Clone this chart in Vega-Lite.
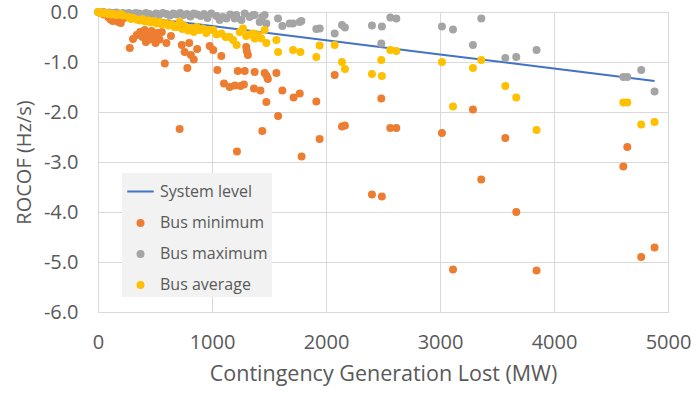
{
  "$schema": "https://vega.github.io/schema/vega-lite/v6.json",
  "width": 570,
  "height": 300,
  "autosize": "none",
  "padding": {"left": 98, "top": 12, "right": 30, "bottom": 84},
  "background": "white",
  "config": {
    "view": {"stroke": "#d9d9d9"},
    "font": "Open Sans",
    "axis": {
      "grid": true,
      "gridColor": "#d9d9d9",
      "gridWidth": 1,
      "domain": false,
      "ticks": false,
      "tickSize": 0,
      "labelColor": "#595959",
      "labelFontSize": 20,
      "titleColor": "#595959",
      "titleFontSize": 20,
      "titleFontWeight": "normal",
      "labelFlush": false
    }
  },
  "datasets": {
    "sys": [
      {"x": 0, "y": 0},
      {"x": 1000, "y": -0.28},
      {"x": 2000, "y": -0.565},
      {"x": 3000, "y": -0.85},
      {"x": 4000, "y": -1.13},
      {"x": 4882, "y": -1.38}
    ],
    "bus": [
      {"s": "Bus minimum", "x": 20, "y": -0.02},
      {"s": "Bus minimum", "x": 50, "y": -0.05},
      {"s": "Bus minimum", "x": 70, "y": -0.03},
      {"s": "Bus minimum", "x": 90, "y": -0.1},
      {"s": "Bus minimum", "x": 110, "y": -0.15},
      {"s": "Bus minimum", "x": 130, "y": -0.18},
      {"s": "Bus minimum", "x": 150, "y": -0.13},
      {"s": "Bus minimum", "x": 180, "y": -0.2},
      {"s": "Bus minimum", "x": 200, "y": -0.22},
      {"s": "Bus minimum", "x": 230, "y": -0.12},
      {"s": "Bus minimum", "x": 279, "y": -0.72},
      {"s": "Bus minimum", "x": 307, "y": -0.54},
      {"s": "Bus minimum", "x": 340, "y": -0.46},
      {"s": "Bus minimum", "x": 370, "y": -0.4},
      {"s": "Bus minimum", "x": 390, "y": -0.5},
      {"s": "Bus minimum", "x": 410, "y": -0.36},
      {"s": "Bus minimum", "x": 420, "y": -0.6},
      {"s": "Bus minimum", "x": 440, "y": -0.44},
      {"s": "Bus minimum", "x": 455, "y": -0.55},
      {"s": "Bus minimum", "x": 470, "y": -0.38},
      {"s": "Bus minimum", "x": 490, "y": -0.48},
      {"s": "Bus minimum", "x": 505, "y": -0.62},
      {"s": "Bus minimum", "x": 520, "y": -0.42},
      {"s": "Bus minimum", "x": 540, "y": -0.55},
      {"s": "Bus minimum", "x": 560, "y": -0.4},
      {"s": "Bus minimum", "x": 586, "y": -1.03},
      {"s": "Bus minimum", "x": 600, "y": -0.62},
      {"s": "Bus minimum", "x": 640, "y": -0.48},
      {"s": "Bus minimum", "x": 716, "y": -2.34},
      {"s": "Bus minimum", "x": 735, "y": -0.66},
      {"s": "Bus minimum", "x": 760, "y": -0.8},
      {"s": "Bus minimum", "x": 784, "y": -1.12},
      {"s": "Bus minimum", "x": 800, "y": -0.62},
      {"s": "Bus minimum", "x": 815, "y": -0.86},
      {"s": "Bus minimum", "x": 840, "y": -0.95},
      {"s": "Bus minimum", "x": 870, "y": -0.74},
      {"s": "Bus minimum", "x": 980, "y": -0.68},
      {"s": "Bus minimum", "x": 1011, "y": -0.76},
      {"s": "Bus minimum", "x": 1047, "y": -1.16},
      {"s": "Bus minimum", "x": 1082, "y": -0.88},
      {"s": "Bus minimum", "x": 1105, "y": -1.43},
      {"s": "Bus minimum", "x": 1155, "y": -1.5},
      {"s": "Bus minimum", "x": 1200, "y": -1.47},
      {"s": "Bus minimum", "x": 1219, "y": -2.79},
      {"s": "Bus minimum", "x": 1226, "y": -1.18},
      {"s": "Bus minimum", "x": 1250, "y": -1.48},
      {"s": "Bus minimum", "x": 1280, "y": -1.45},
      {"s": "Bus minimum", "x": 1287, "y": -1.18},
      {"s": "Bus minimum", "x": 1300, "y": -0.7},
      {"s": "Bus minimum", "x": 1305, "y": -0.78},
      {"s": "Bus minimum", "x": 1315, "y": -0.86},
      {"s": "Bus minimum", "x": 1368, "y": -1.53},
      {"s": "Bus minimum", "x": 1374, "y": -1.2},
      {"s": "Bus minimum", "x": 1425, "y": -1.57},
      {"s": "Bus minimum", "x": 1441, "y": -2.38},
      {"s": "Bus minimum", "x": 1462, "y": -1.22},
      {"s": "Bus minimum", "x": 1477, "y": -1.8},
      {"s": "Bus minimum", "x": 1480, "y": -1.28},
      {"s": "Bus minimum", "x": 1490, "y": -1.34},
      {"s": "Bus minimum", "x": 1565, "y": -1.22},
      {"s": "Bus minimum", "x": 1580, "y": -2.08},
      {"s": "Bus minimum", "x": 1617, "y": -1.57},
      {"s": "Bus minimum", "x": 1716, "y": -1.71},
      {"s": "Bus minimum", "x": 1770, "y": -1.63},
      {"s": "Bus minimum", "x": 1786, "y": -2.89},
      {"s": "Bus minimum", "x": 1915, "y": -1.79},
      {"s": "Bus minimum", "x": 1944, "y": -2.54},
      {"s": "Bus minimum", "x": 2076, "y": -1.26},
      {"s": "Bus minimum", "x": 2140, "y": -2.29},
      {"s": "Bus minimum", "x": 2166, "y": -2.27},
      {"s": "Bus minimum", "x": 2403, "y": -3.65},
      {"s": "Bus minimum", "x": 2485, "y": -1.73},
      {"s": "Bus minimum", "x": 2490, "y": -3.69},
      {"s": "Bus minimum", "x": 2564, "y": -2.32},
      {"s": "Bus minimum", "x": 2617, "y": -2.32},
      {"s": "Bus minimum", "x": 3017, "y": -2.42},
      {"s": "Bus minimum", "x": 3114, "y": -5.15},
      {"s": "Bus minimum", "x": 3289, "y": -1.95},
      {"s": "Bus minimum", "x": 3362, "y": -3.35},
      {"s": "Bus minimum", "x": 3573, "y": -2.52},
      {"s": "Bus minimum", "x": 3669, "y": -4.0},
      {"s": "Bus minimum", "x": 3847, "y": -5.17},
      {"s": "Bus minimum", "x": 4608, "y": -3.09},
      {"s": "Bus minimum", "x": 4643, "y": -2.7},
      {"s": "Bus minimum", "x": 4765, "y": -4.9},
      {"s": "Bus minimum", "x": 4882, "y": -4.71},

      {"s": "Bus maximum", "x": 0, "y": 0},
      {"s": "Bus maximum", "x": 25, "y": -0.01},
      {"s": "Bus maximum", "x": 50, "y": 0},
      {"s": "Bus maximum", "x": 75, "y": -0.02},
      {"s": "Bus maximum", "x": 100, "y": -0.01},
      {"s": "Bus maximum", "x": 130, "y": -0.02},
      {"s": "Bus maximum", "x": 160, "y": -0.01},
      {"s": "Bus maximum", "x": 190, "y": -0.03},
      {"s": "Bus maximum", "x": 220, "y": -0.02},
      {"s": "Bus maximum", "x": 270, "y": -0.02},
      {"s": "Bus maximum", "x": 300, "y": -0.04},
      {"s": "Bus maximum", "x": 330, "y": -0.02},
      {"s": "Bus maximum", "x": 360, "y": -0.03},
      {"s": "Bus maximum", "x": 390, "y": -0.05},
      {"s": "Bus maximum", "x": 420, "y": -0.02},
      {"s": "Bus maximum", "x": 450, "y": -0.04},
      {"s": "Bus maximum", "x": 480, "y": -0.06},
      {"s": "Bus maximum", "x": 510, "y": -0.03},
      {"s": "Bus maximum", "x": 540, "y": -0.05},
      {"s": "Bus maximum", "x": 570, "y": -0.02},
      {"s": "Bus maximum", "x": 600, "y": -0.04},
      {"s": "Bus maximum", "x": 630, "y": -0.07},
      {"s": "Bus maximum", "x": 660, "y": -0.03},
      {"s": "Bus maximum", "x": 690, "y": -0.05},
      {"s": "Bus maximum", "x": 720, "y": -0.02},
      {"s": "Bus maximum", "x": 750, "y": -0.06},
      {"s": "Bus maximum", "x": 780, "y": -0.04},
      {"s": "Bus maximum", "x": 810, "y": -0.09},
      {"s": "Bus maximum", "x": 840, "y": -0.03},
      {"s": "Bus maximum", "x": 870, "y": -0.05},
      {"s": "Bus maximum", "x": 900, "y": -0.08},
      {"s": "Bus maximum", "x": 930, "y": -0.04},
      {"s": "Bus maximum", "x": 960, "y": -0.12},
      {"s": "Bus maximum", "x": 994, "y": -0.03},
      {"s": "Bus maximum", "x": 1040, "y": -0.08},
      {"s": "Bus maximum", "x": 1067, "y": -0.16},
      {"s": "Bus maximum", "x": 1096, "y": -0.1},
      {"s": "Bus maximum", "x": 1126, "y": -0.13},
      {"s": "Bus maximum", "x": 1160, "y": -0.05},
      {"s": "Bus maximum", "x": 1199, "y": -0.13},
      {"s": "Bus maximum", "x": 1213, "y": -0.06},
      {"s": "Bus maximum", "x": 1258, "y": -0.16},
      {"s": "Bus maximum", "x": 1287, "y": -0.03},
      {"s": "Bus maximum", "x": 1330, "y": -0.1},
      {"s": "Bus maximum", "x": 1360, "y": -0.06},
      {"s": "Bus maximum", "x": 1374, "y": -0.06},
      {"s": "Bus maximum", "x": 1418, "y": -0.2},
      {"s": "Bus maximum", "x": 1440, "y": -0.1},
      {"s": "Bus maximum", "x": 1462, "y": -0.06},
      {"s": "Bus maximum", "x": 1477, "y": -0.23},
      {"s": "Bus maximum", "x": 1579, "y": -0.13},
      {"s": "Bus maximum", "x": 1617, "y": -0.28},
      {"s": "Bus maximum", "x": 1681, "y": -0.23},
      {"s": "Bus maximum", "x": 1711, "y": -0.23},
      {"s": "Bus maximum", "x": 1769, "y": -0.2},
      {"s": "Bus maximum", "x": 1784, "y": -0.18},
      {"s": "Bus maximum", "x": 1915, "y": -0.34},
      {"s": "Bus maximum", "x": 1945, "y": -0.33},
      {"s": "Bus maximum", "x": 2076, "y": -0.43},
      {"s": "Bus maximum", "x": 2140, "y": -0.26},
      {"s": "Bus maximum", "x": 2166, "y": -0.31},
      {"s": "Bus maximum", "x": 2403, "y": -0.27},
      {"s": "Bus maximum", "x": 2485, "y": -0.63},
      {"s": "Bus maximum", "x": 2490, "y": -0.29},
      {"s": "Bus maximum", "x": 2564, "y": -0.11},
      {"s": "Bus maximum", "x": 2617, "y": -0.13},
      {"s": "Bus maximum", "x": 3017, "y": -0.29},
      {"s": "Bus maximum", "x": 3114, "y": -0.35},
      {"s": "Bus maximum", "x": 3289, "y": -0.66},
      {"s": "Bus maximum", "x": 3362, "y": -0.13},
      {"s": "Bus maximum", "x": 3573, "y": -0.92},
      {"s": "Bus maximum", "x": 3669, "y": -0.9},
      {"s": "Bus maximum", "x": 3847, "y": -0.76},
      {"s": "Bus maximum", "x": 4608, "y": -1.3},
      {"s": "Bus maximum", "x": 4643, "y": -1.3},
      {"s": "Bus maximum", "x": 4765, "y": -1.16},
      {"s": "Bus maximum", "x": 4882, "y": -1.59},

      {"s": "Bus average", "x": 0, "y": 0},
      {"s": "Bus average", "x": 15, "y": -0.01},
      {"s": "Bus average", "x": 30, "y": -0.02},
      {"s": "Bus average", "x": 45, "y": -0.01},
      {"s": "Bus average", "x": 60, "y": -0.03},
      {"s": "Bus average", "x": 75, "y": -0.02},
      {"s": "Bus average", "x": 90, "y": -0.04},
      {"s": "Bus average", "x": 105, "y": -0.03},
      {"s": "Bus average", "x": 120, "y": -0.05},
      {"s": "Bus average", "x": 140, "y": -0.04},
      {"s": "Bus average", "x": 160, "y": -0.06},
      {"s": "Bus average", "x": 180, "y": -0.05},
      {"s": "Bus average", "x": 200, "y": -0.04},
      {"s": "Bus average", "x": 220, "y": -0.07},
      {"s": "Bus average", "x": 270, "y": -0.1},
      {"s": "Bus average", "x": 290, "y": -0.14},
      {"s": "Bus average", "x": 310, "y": -0.12},
      {"s": "Bus average", "x": 340, "y": -0.15},
      {"s": "Bus average", "x": 365, "y": -0.17},
      {"s": "Bus average", "x": 390, "y": -0.14},
      {"s": "Bus average", "x": 415, "y": -0.19},
      {"s": "Bus average", "x": 440, "y": -0.17},
      {"s": "Bus average", "x": 465, "y": -0.21},
      {"s": "Bus average", "x": 490, "y": -0.18},
      {"s": "Bus average", "x": 515, "y": -0.23},
      {"s": "Bus average", "x": 540, "y": -0.2},
      {"s": "Bus average", "x": 565, "y": -0.25},
      {"s": "Bus average", "x": 590, "y": -0.22},
      {"s": "Bus average", "x": 620, "y": -0.27},
      {"s": "Bus average", "x": 645, "y": -0.24},
      {"s": "Bus average", "x": 670, "y": -0.3},
      {"s": "Bus average", "x": 700, "y": -0.3},
      {"s": "Bus average", "x": 716, "y": -0.2},
      {"s": "Bus average", "x": 740, "y": -0.34},
      {"s": "Bus average", "x": 760, "y": -0.28},
      {"s": "Bus average", "x": 790, "y": -0.37},
      {"s": "Bus average", "x": 810, "y": -0.32},
      {"s": "Bus average", "x": 840, "y": -0.4},
      {"s": "Bus average", "x": 866, "y": -0.3},
      {"s": "Bus average", "x": 890, "y": -0.36},
      {"s": "Bus average", "x": 920, "y": -0.33},
      {"s": "Bus average", "x": 950, "y": -0.42},
      {"s": "Bus average", "x": 975, "y": -0.36},
      {"s": "Bus average", "x": 1011, "y": -0.36},
      {"s": "Bus average", "x": 1040, "y": -0.45},
      {"s": "Bus average", "x": 1082, "y": -0.43},
      {"s": "Bus average", "x": 1120, "y": -0.5},
      {"s": "Bus average", "x": 1155, "y": -0.5},
      {"s": "Bus average", "x": 1185, "y": -0.56},
      {"s": "Bus average", "x": 1216, "y": -0.66},
      {"s": "Bus average", "x": 1243, "y": -0.4},
      {"s": "Bus average", "x": 1272, "y": -0.33},
      {"s": "Bus average", "x": 1300, "y": -0.48},
      {"s": "Bus average", "x": 1330, "y": -0.45},
      {"s": "Bus average", "x": 1360, "y": -0.43},
      {"s": "Bus average", "x": 1374, "y": -0.53},
      {"s": "Bus average", "x": 1404, "y": -0.46},
      {"s": "Bus average", "x": 1433, "y": -0.53},
      {"s": "Bus average", "x": 1462, "y": -0.36},
      {"s": "Bus average", "x": 1477, "y": -0.62},
      {"s": "Bus average", "x": 1565, "y": -0.56},
      {"s": "Bus average", "x": 1580, "y": -0.8},
      {"s": "Bus average", "x": 1711, "y": -0.76},
      {"s": "Bus average", "x": 1775, "y": -0.8},
      {"s": "Bus average", "x": 1915, "y": -0.9},
      {"s": "Bus average", "x": 1944, "y": -0.67},
      {"s": "Bus average", "x": 2076, "y": -0.66},
      {"s": "Bus average", "x": 2140, "y": -1.0},
      {"s": "Bus average", "x": 2166, "y": -1.14},
      {"s": "Bus average", "x": 2403, "y": -1.24},
      {"s": "Bus average", "x": 2485, "y": -0.96},
      {"s": "Bus average", "x": 2490, "y": -1.28},
      {"s": "Bus average", "x": 2564, "y": -0.76},
      {"s": "Bus average", "x": 2617, "y": -0.78},
      {"s": "Bus average", "x": 3017, "y": -1.0},
      {"s": "Bus average", "x": 3114, "y": -1.89},
      {"s": "Bus average", "x": 3289, "y": -1.12},
      {"s": "Bus average", "x": 3362, "y": -0.96},
      {"s": "Bus average", "x": 3573, "y": -1.48},
      {"s": "Bus average", "x": 3669, "y": -1.71},
      {"s": "Bus average", "x": 3847, "y": -2.36},
      {"s": "Bus average", "x": 4608, "y": -1.81},
      {"s": "Bus average", "x": 4643, "y": -1.81},
      {"s": "Bus average", "x": 4765, "y": -2.25},
      {"s": "Bus average", "x": 4882, "y": -2.2}
    ]
  },
  "layer": [
    {
      "data": {"name": "sys"},
      "mark": {"type": "line", "color": "#4472C4", "strokeWidth": 2},
      "encoding": {
        "x": {"field": "x", "type": "quantitative", "scale": {"domain": [0, 5000], "nice": false},
              "axis": {"values": [0, 1000, 2000, 3000, 4000, 5000], "format": "d", "labelPadding": 20, "title": "Contingency Generation Lost (MW)", "titleFontSize": 21.5, "titlePadding": 11}},
        "y": {"field": "y", "type": "quantitative", "scale": {"domain": [-6, 0], "nice": false},
              "axis": {"values": [-6, -5, -4, -3, -2, -1, 0], "labelExpr": "replace(format(datum.value, '.1f'), '\u2212', '-')", "labelPadding": 20, "title": "ROCOF (Hz/s)", "titlePadding": 9}}
      }
    },
    {
      "data": {"name": "bus"},
      "mark": {"type": "point", "filled": true, "opacity": 1, "strokeWidth": 2},
      "encoding": {
        "x": {"field": "x", "type": "quantitative"},
        "y": {"field": "y", "type": "quantitative"},
        "color": {
          "field": "s",
          "type": "nominal",
          "sort": null,
          "scale": {"domain": ["System level", "Bus minimum", "Bus maximum", "Bus average"], "range": ["#4472C4", "#ED7D31", "#A5A5A5", "#FFC000"]},
          "legend": {
            "title": null,
            "orient": "none",
            "legendX": 24,
            "legendY": 161,
            "fillColor": "#f2f2f2",
            "padding": 4,
            "labelFontSize": 16,
            "labelColor": "#595959",
            "labelOffset": 5,
            "rowPadding": 15,
            "symbolStrokeWidth": 2
          }
        },
        "stroke": {
          "field": "s",
          "type": "nominal",
          "sort": null,
          "scale": {"domain": ["System level", "Bus minimum", "Bus maximum", "Bus average"], "range": ["#4472C4", "#ED7D31", "#A5A5A5", "#FFC000"]},
          "legend": {"title": null}
        },
        "shape": {
          "field": "s",
          "type": "nominal",
          "sort": null,
          "scale": {"domain": ["System level", "Bus minimum", "Bus maximum", "Bus average"], "range": ["stroke", "circle", "circle", "circle"]},
          "legend": {"title": null}
        },
        "size": {
          "field": "s",
          "type": "nominal",
          "sort": null,
          "scale": {"type": "ordinal", "domain": ["System level", "Bus minimum", "Bus maximum", "Bus average"], "range": [700, 36, 36, 36]},
          "legend": {"title": null}
        }
      }
    }
  ]
}
